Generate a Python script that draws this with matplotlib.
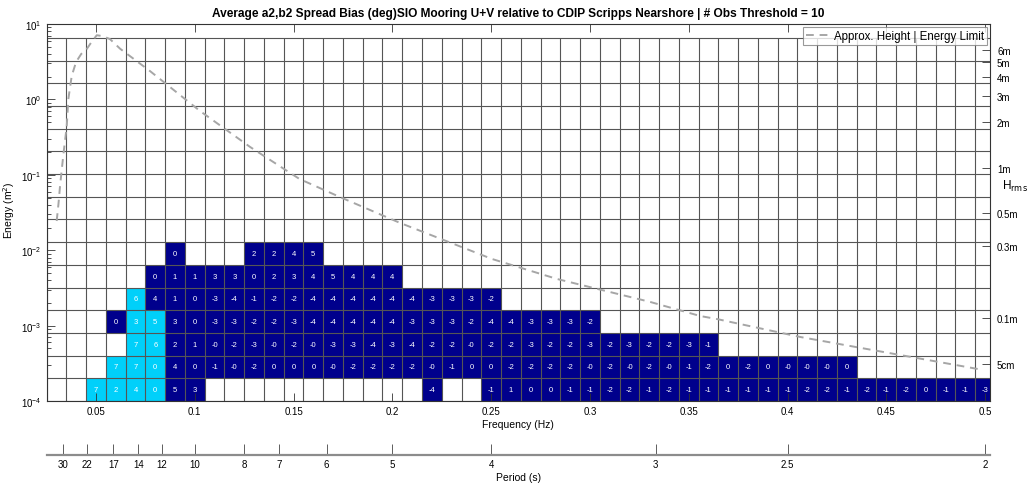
import numpy as np
import matplotlib
matplotlib.use('Agg')
import matplotlib.pyplot as plt
from matplotlib.colors import ListedColormap
from matplotlib.ticker import NullLocator, LogLocator

plt.rcParams['font.family'] = ['Liberation Sans', 'DejaVu Sans']

# ---------------- data ----------------
# frequency bins (Hz): centres 0.03 ... 0.50, width 0.01
freq_edges = np.round(np.arange(0.025, 0.5051, 0.01), 3)
freq_centers = np.round(freq_edges[:-1] + 0.005, 3)
# energy bins (m^2): doubling from 1e-4
energy_edges = 1e-4 * 2.0 ** np.arange(17)

# bias (deg) per energy-bin row, given from the first populated frequency; None = no data
row0_start = 0.05
row0_vals = [7, 2, 4, 0, 5, 3, None, None, None, None, None, None, None, None, None, None, None,
             -4, None, None, -1, 1, 0, 0, -1, -1, -2, -2, -1, -2, -1, -1, -1, -1, -1, -1, -2, -2,
             -1, -2, -1, -2, 0, -1, -1, -3]
row1_start = 0.06
row1_vals = [7, 7, 0, 4, 0, -1, -0.0, -2, 0, 0, 0, -0.0, -2, -2, -2, -2, -0.0, -1, 0, 0, -2, -2,
             -2, -2, -0.0, -2, -0.0, -2, -0.0, -1, -2, 0, -2, 0, -0.0, -0.0, -0.0, 0]
row2_start = 0.07
row2_vals = [7, 6, 2, 1, -0.0, -2, -3, -0.0, -2, -0.0, -3, -3, -4, -3, -4, -2, -2, -0.0, -2, -2,
             -3, -2, -2, -3, -2, -3, -2, -2, -3, -1]
row3_start = 0.06
row3_vals = [0, 3, 5, 3, 0, -3, -3, -2, -2, -3, -4, -4, -4, -4, -4, -3, -3, -3, -2, -4, -4, -3,
             -3, -3, -2]
row4_start = 0.07
row4_vals = [6, 4, 1, 0, -3, -4, -1, -2, -2, -4, -4, -4, -4, -4, -4, -3, -3, -3, -2]
row5_start = 0.08
row5_vals = [0, 1, 1, 3, 3, 0, 2, 3, 4, 5, 4, 4, 4]
row6_start = 0.09
row6_vals = [0, None, None, None, 2, 2, 4, 5]

# cells drawn in the light (cyan) class: (row, frequency)
cyan_cells = [(0, 0.05), (0, 0.06), (0, 0.07), (0, 0.08),
              (1, 0.06), (1, 0.07), (1, 0.08),
              (2, 0.07), (2, 0.08),
              (3, 0.07), (3, 0.08),
              (4, 0.07)]

# approximate height / energy limit curve
curve_freq = [0.0301, 0.0310, 0.0318, 0.0334, 0.0352, 0.0360, 0.0377, 0.0399, 0.0425, 0.0453,
              0.0480, 0.0504, 0.0535, 0.0571, 0.0622, 0.0773, 0.1027, 0.128, 0.153, 0.1734,
              0.2039, 0.2505, 0.2834, 0.3305, 0.3558, 0.3644, 0.4065, 0.4571, 0.4966]
curve_energy = [0.0244, 0.041, 0.071, 0.177, 0.443, 1.01, 2.04, 3.13, 4.0, 4.66,
                5.9, 7.1, 6.9, 6.3, 4.7, 2.38, 0.70, 0.234, 0.088, 0.0508,
                0.0230, 0.00764, 0.00415, 0.00206, 0.00134, 0.00122, 7.06e-4, 4.07e-4, 2.65e-4]

freq_ticks = [0.05, 0.1, 0.15, 0.2, 0.25, 0.3, 0.35, 0.4, 0.45, 0.5]
freq_ticklabels = ['0.05', '0.1', '0.15', '0.2', '0.25', '0.3', '0.35', '0.4', '0.45', '0.5']
period_ticks = [30, 22, 17, 14, 12, 10, 8, 7, 6, 5, 4, 3, 2.5, 2]
period_ticklabels = ['30', '22', '17', '14', '12', '10', '8', '7', '6', '5', '4', '3', '2.5', '2']
hrms_vals = [0.05, 0.1, 0.3, 0.5, 1, 2, 3, 4, 5, 6]
hrms_labels = ['5cm', '0.1m', '0.3m', '0.5m', '1m', '2m', '3m', '4m', '5m', '6m']

title = ('Average a2,b2 Spread Bias (deg)SIO Mooring U+V relative to CDIP Scripps Nearshore'
         ' | # Obs Threshold = 10')

# ---------------- build grid ----------------
rows = [(row0_start, row0_vals), (row1_start, row1_vals), (row2_start, row2_vals),
        (row3_start, row3_vals), (row4_start, row4_vals), (row5_start, row5_vals),
        (row6_start, row6_vals)]
nrow, ncol = len(energy_edges) - 1, len(freq_centers)
Z = np.full((nrow, ncol), np.nan)


def col_of(f):
    return int(np.argmin(np.abs(freq_centers - f)))


for r, (start, vals) in enumerate(rows):
    c0 = col_of(start)
    for i, v in enumerate(vals):
        if v is not None:
            Z[r, c0 + i] = float(v)

C = np.where(np.isnan(Z), np.nan, 0.0)
for r, f in cyan_cells:
    C[r, col_of(f)] = 1.0

navy = '#00008C'
cyan = '#00D0FA'

# ---------------- figure ----------------
fig = plt.figure(figsize=(10.32, 4.85), dpi=100)
L, B, W, H = 0.04516, 0.17113, 0.9142, 0.7773
ax = fig.add_axes([L, B, W, H])
ax.set_yscale('log')
xmin, xmax = 0.025, 0.5025
ax.set_xlim(xmin, xmax)
ax.set_ylim(1e-4, 10)

ax.pcolormesh(freq_edges, energy_edges, np.ma.masked_invalid(C),
              cmap=ListedColormap([navy, cyan]), vmin=0, vmax=1, shading='flat', zorder=1)

# cell edges
ax.vlines(freq_edges, 1e-4, energy_edges[-1], colors='#555555', lw=0.8, zorder=2)
ax.hlines(energy_edges, xmin, xmax, colors='#555555', lw=0.8, zorder=2)

# cell labels
ecent = np.sqrt(energy_edges[:-1] * energy_edges[1:])
for r in range(nrow):
    for c in range(ncol):
        v = Z[r, c]
        if not np.isnan(v):
            ax.text(freq_centers[c], ecent[r], f"{v:.0f}", color='white', fontsize=5.5,
                    ha='center', va='center', zorder=3)

ax.plot(curve_freq, curve_energy, linestyle=(0, (4, 3)), color='#a6a6a6', lw=1.4, zorder=4,
        label='Approx. Height | Energy Limit')
leg = ax.legend(loc='upper right', fontsize=8.3, frameon=True, fancybox=False,
                borderaxespad=0.3, borderpad=0.25, handlelength=2.0, handletextpad=0.4)
leg.get_frame().set_edgecolor('#808080')
leg.get_frame().set_linewidth(0.8)
leg.set_zorder(10)

ax.set_xticks(freq_ticks)
ax.set_xticklabels(freq_ticklabels)
ax.yaxis.set_major_locator(LogLocator(base=10, numticks=10))
ax.yaxis.set_minor_locator(LogLocator(base=10, subs=np.arange(2, 10), numticks=10))
ax.tick_params(axis='both', which='both', direction='in', top=True, right=True, labelsize=7,
               color='#333333', width=0.6)
ax.tick_params(axis='both', which='major', length=6)
ax.tick_params(axis='both', which='minor', length=3)
for s in ax.spines.values():
    s.set_linewidth(0.8)
    s.set_color('#333333')
ax.set_xlabel('Frequency (Hz)', fontsize=7.5, labelpad=2)
ax.set_ylabel('Energy (m$^2$)', fontsize=7.5)
ax.yaxis.set_label_coords(-0.031, 0.51)
ax.set_title(title, fontsize=8.6, fontweight='bold', pad=6)

# right H_rms axis
axr = ax.twinx()
axr.set_yscale('log')
axr.set_ylim(1e-4, 10)
axr.set_yticks([h ** 2 / 8 for h in hrms_vals])
axr.set_yticklabels(hrms_labels)
axr.yaxis.set_minor_locator(NullLocator())
axr.tick_params(axis='y', direction='in', length=6, labelsize=7, pad=5, color='#333333', width=0.6)
for s in axr.spines.values():
    s.set_visible(False)
fig.text(0.9705, 0.615, r'H$_{\rm rms}$', fontsize=8.5, ha='left', va='center')

# period axis
axp = fig.add_axes([L, 0.0598, W, 1e-5])
axp.set_xlim(xmin, xmax)
axp.set_ylim(0, 1)
for k in ['top', 'left', 'right']:
    axp.spines[k].set_visible(False)
axp.spines['bottom'].set_color('#8c8c8c')
axp.spines['bottom'].set_linewidth(1.6)
axp.set_yticks([])
axp.set_xticks([1.0 / p for p in period_ticks])
axp.set_xticklabels(period_ticklabels)
axp.tick_params(axis='x', direction='in', length=8, labelsize=7, color='#444444', width=0.6, pad=3)
axp.set_xlabel('Period (s)', fontsize=7.5, labelpad=2)
axp.patch.set_visible(False)

fig.savefig('out.png', dpi=100)
